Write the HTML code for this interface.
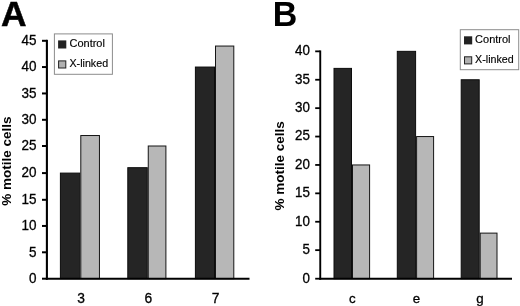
<!DOCTYPE html>
<html><head><meta charset="utf-8"><title>Figure</title>
<style>
html,body{margin:0;padding:0;background:#fff;}
body{width:520px;height:306px;overflow:hidden;}
svg{display:block;filter:blur(0.35px);font-family:"Liberation Sans",Arial,sans-serif;fill:#000;}
text{stroke:#000;stroke-width:0.3px;}
text[font-weight="bold"]{stroke:none;}
</style></head><body>
<svg width="520" height="306" viewBox="0 0 520 306">
<rect x="60.40" y="173.10" width="19.40" height="105.60" fill="#252525" stroke="#0c0c0c" stroke-width="1"/>
<rect x="80.80" y="135.52" width="18.65" height="143.18" fill="#b7b7b7" stroke="#151515" stroke-width="1"/>
<rect x="127.80" y="167.68" width="19.45" height="111.02" fill="#252525" stroke="#0c0c0c" stroke-width="1"/>
<rect x="148.25" y="146.00" width="17.65" height="132.70" fill="#b7b7b7" stroke="#151515" stroke-width="1"/>
<rect x="195.40" y="67.05" width="19.10" height="211.65" fill="#252525" stroke="#0c0c0c" stroke-width="1"/>
<rect x="215.50" y="46.05" width="18.30" height="232.65" fill="#b7b7b7" stroke="#151515" stroke-width="1"/>
<line x1="46.90" y1="39.80" x2="46.90" y2="279.70" stroke="#000" stroke-width="2.1"/>
<line x1="45.90" y1="278.70" x2="249.50" y2="278.70" stroke="#000" stroke-width="2"/>
<line x1="42.00" y1="278.70" x2="46.90" y2="278.70" stroke="#000" stroke-width="2"/>
<text transform="translate(36.50,283.00) scale(0.95,1)" font-size="14.2" text-anchor="end" font-weight="normal" >0</text>
<line x1="42.00" y1="252.30" x2="46.90" y2="252.30" stroke="#000" stroke-width="2"/>
<text transform="translate(36.50,256.60) scale(0.95,1)" font-size="14.2" text-anchor="end" font-weight="normal" >5</text>
<line x1="42.00" y1="225.95" x2="46.90" y2="225.95" stroke="#000" stroke-width="2"/>
<text transform="translate(36.50,230.25) scale(0.95,1)" font-size="14.2" text-anchor="end" font-weight="normal" >10</text>
<line x1="42.00" y1="199.80" x2="46.90" y2="199.80" stroke="#000" stroke-width="2"/>
<text transform="translate(36.50,204.10) scale(0.95,1)" font-size="14.2" text-anchor="end" font-weight="normal" >15</text>
<line x1="42.00" y1="173.10" x2="46.90" y2="173.10" stroke="#000" stroke-width="2"/>
<text transform="translate(36.50,177.40) scale(0.95,1)" font-size="14.2" text-anchor="end" font-weight="normal" >20</text>
<line x1="42.00" y1="146.00" x2="46.90" y2="146.00" stroke="#000" stroke-width="2"/>
<text transform="translate(36.50,150.30) scale(0.95,1)" font-size="14.2" text-anchor="end" font-weight="normal" >25</text>
<line x1="42.00" y1="119.80" x2="46.90" y2="119.80" stroke="#000" stroke-width="2"/>
<text transform="translate(36.50,124.10) scale(0.95,1)" font-size="14.2" text-anchor="end" font-weight="normal" >30</text>
<line x1="42.00" y1="93.45" x2="46.90" y2="93.45" stroke="#000" stroke-width="2"/>
<text transform="translate(36.50,97.75) scale(0.95,1)" font-size="14.2" text-anchor="end" font-weight="normal" >35</text>
<line x1="42.00" y1="67.05" x2="46.90" y2="67.05" stroke="#000" stroke-width="2"/>
<text transform="translate(36.50,71.35) scale(0.95,1)" font-size="14.2" text-anchor="end" font-weight="normal" >40</text>
<line x1="42.00" y1="40.80" x2="46.90" y2="40.80" stroke="#000" stroke-width="2"/>
<text transform="translate(36.50,45.10) scale(0.95,1)" font-size="14.2" text-anchor="end" font-weight="normal" >45</text>
<text x="81.00" y="302.50" font-size="13.8" text-anchor="middle" font-weight="normal" >3</text>
<text x="148.45" y="302.50" font-size="13.8" text-anchor="middle" font-weight="normal" >6</text>
<text x="215.70" y="302.50" font-size="13.8" text-anchor="middle" font-weight="normal" >7</text>
<text transform="translate(11.4,161.2) rotate(-90)" font-size="13.5" font-weight="bold" text-anchor="middle">% motile cells</text>
<text x="1.10" y="25.90" font-size="35.4" text-anchor="start" font-weight="bold" style="stroke:#000;stroke-width:0.5px">A</text>
<rect x="54.40" y="33.90" width="58.00" height="40.40" fill="#fff" stroke="#8c8c8c" stroke-width="1"/>
<rect x="58.10" y="40.40" width="8.20" height="8.10" fill="#222"/>
<rect x="58.60" y="60.90" width="7.20" height="7.10" fill="#b0b0b0" stroke="#222" stroke-width="1"/>
<text x="69.50" y="47.40" font-size="11.3" text-anchor="start" font-weight="normal" style="stroke-width:0.15px" textLength="35.4" lengthAdjust="spacingAndGlyphs">Control</text>
<text x="69.50" y="67.40" font-size="11.3" text-anchor="start" font-weight="normal" style="stroke-width:0.15px" textLength="38.6" lengthAdjust="spacingAndGlyphs">X-linked</text>
<rect x="334.00" y="68.39" width="17.50" height="210.31" fill="#252525" stroke="#0c0c0c" stroke-width="1"/>
<rect x="352.50" y="164.95" width="17.10" height="113.75" fill="#b7b7b7" stroke="#151515" stroke-width="1"/>
<rect x="397.30" y="51.35" width="18.30" height="227.35" fill="#252525" stroke="#0c0c0c" stroke-width="1"/>
<rect x="416.60" y="136.55" width="17.00" height="142.15" fill="#b7b7b7" stroke="#151515" stroke-width="1"/>
<rect x="461.20" y="79.75" width="18.00" height="198.95" fill="#252525" stroke="#0c0c0c" stroke-width="1"/>
<rect x="480.20" y="233.11" width="16.80" height="45.59" fill="#b7b7b7" stroke="#151515" stroke-width="1"/>
<line x1="320.25" y1="50.45" x2="320.25" y2="279.70" stroke="#000" stroke-width="1.9"/>
<line x1="319.25" y1="278.70" x2="512.00" y2="278.70" stroke="#000" stroke-width="2"/>
<line x1="315.20" y1="278.70" x2="320.25" y2="278.70" stroke="#000" stroke-width="1.8"/>
<text transform="translate(310.00,282.60) scale(0.97,1)" font-size="13.8" text-anchor="end" font-weight="normal" >0</text>
<line x1="315.20" y1="250.15" x2="320.25" y2="250.15" stroke="#000" stroke-width="1.8"/>
<text transform="translate(310.00,254.05) scale(0.97,1)" font-size="13.8" text-anchor="end" font-weight="normal" >5</text>
<line x1="315.20" y1="221.75" x2="320.25" y2="221.75" stroke="#000" stroke-width="1.8"/>
<text transform="translate(310.00,225.65) scale(0.97,1)" font-size="13.8" text-anchor="end" font-weight="normal" >10</text>
<line x1="315.20" y1="193.35" x2="320.25" y2="193.35" stroke="#000" stroke-width="1.8"/>
<text transform="translate(310.00,197.25) scale(0.97,1)" font-size="13.8" text-anchor="end" font-weight="normal" >15</text>
<line x1="315.20" y1="164.95" x2="320.25" y2="164.95" stroke="#000" stroke-width="1.8"/>
<text transform="translate(310.00,168.85) scale(0.97,1)" font-size="13.8" text-anchor="end" font-weight="normal" >20</text>
<line x1="315.20" y1="136.55" x2="320.25" y2="136.55" stroke="#000" stroke-width="1.8"/>
<text transform="translate(310.00,140.45) scale(0.97,1)" font-size="13.8" text-anchor="end" font-weight="normal" >25</text>
<line x1="315.20" y1="108.15" x2="320.25" y2="108.15" stroke="#000" stroke-width="1.8"/>
<text transform="translate(310.00,112.05) scale(0.97,1)" font-size="13.8" text-anchor="end" font-weight="normal" >30</text>
<line x1="315.20" y1="79.75" x2="320.25" y2="79.75" stroke="#000" stroke-width="1.8"/>
<text transform="translate(310.00,83.65) scale(0.97,1)" font-size="13.8" text-anchor="end" font-weight="normal" >35</text>
<line x1="315.20" y1="51.35" x2="320.25" y2="51.35" stroke="#000" stroke-width="1.8"/>
<text transform="translate(310.00,55.25) scale(0.97,1)" font-size="13.8" text-anchor="end" font-weight="normal" >40</text>
<text x="352.30" y="302.70" font-size="13.3" text-anchor="middle" font-weight="normal" >c</text>
<text x="416.40" y="302.70" font-size="13.3" text-anchor="middle" font-weight="normal" >e</text>
<text x="480.00" y="302.70" font-size="13.3" text-anchor="middle" font-weight="normal" >g</text>
<text transform="translate(284.2,165.8) rotate(-90)" font-size="13.5" font-weight="bold" text-anchor="middle">% motile cells</text>
<text transform="translate(272.70,26.00) scale(0.955,1)" font-size="35.6" text-anchor="start" font-weight="bold" >B</text>
<rect x="460.30" y="29.70" width="58.40" height="40.00" fill="#fff" stroke="#8c8c8c" stroke-width="1"/>
<rect x="464.00" y="36.30" width="8.20" height="8.10" fill="#222"/>
<rect x="464.50" y="56.80" width="7.20" height="7.10" fill="#b0b0b0" stroke="#222" stroke-width="1"/>
<text x="475.10" y="42.60" font-size="11.3" text-anchor="start" font-weight="normal" style="stroke-width:0.15px" textLength="35.4" lengthAdjust="spacingAndGlyphs">Control</text>
<text x="475.10" y="62.60" font-size="11.3" text-anchor="start" font-weight="normal" style="stroke-width:0.15px" textLength="38.6" lengthAdjust="spacingAndGlyphs">X-linked</text>
</svg>
</body></html>
